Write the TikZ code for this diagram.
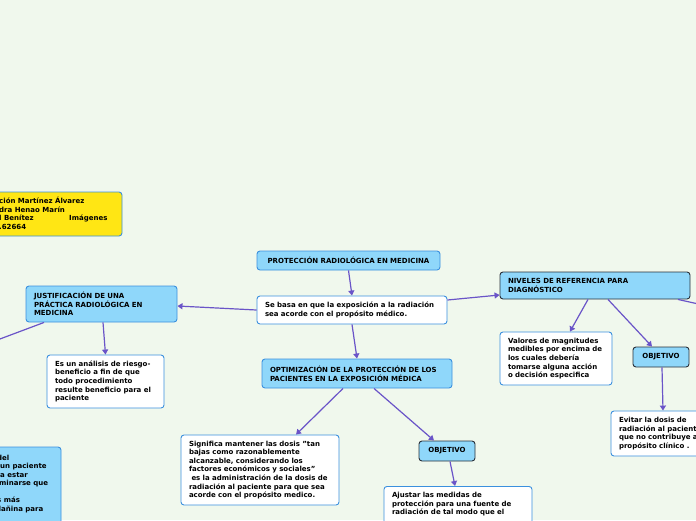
\documentclass[tikz,border=0pt]{standalone}
\usepackage{fontspec}
\setmainfont{DejaVu Sans}
\usetikzlibrary{arrows.meta}
\definecolor{bgc}{RGB}{240,248,237}
\definecolor{bluefill}{RGB}{143,215,250}
\definecolor{blueline}{RGB}{59,144,222}
\definecolor{darkline}{RGB}{40,48,58}
\definecolor{edgec}{RGB}{106,84,200}
\definecolor{yellowfill}{RGB}{255,230,20}
\newcommand{\tf}{\fontsize{7}{8.6}\selectfont\bfseries}
\tikzset{
  basebox/.style={rounded corners=3pt, line width=0.9pt, inner xsep=8pt, inner ysep=0pt, align=left, font=\tf, text=black},
  whitebox/.style={basebox, fill=white, draw=blueline},
  bluebox/.style={basebox, fill=bluefill, draw=blueline},
  darkbox/.style={basebox, fill=bluefill, draw=darkline},
  yellowbox/.style={basebox, fill=yellowfill, draw=blueline},
  edge/.style={draw=edgec, line width=1.2pt, -{Triangle[length=5pt,width=6pt]}},
  plainedge/.style={draw=edgec, line width=1.2pt},
  txt/.style={font=\tf, inner sep=0pt, anchor=base west, text=black}
}
\begin{document}
\begin{tikzpicture}[x=1pt,y=-1pt]
\useasboundingbox (0,0) rectangle (696,520);
\clip (0,0) rectangle (696,520);
\fill[bgc] (0,0) rectangle (696,520);

% yellow box (cut at left edge)
\node[yellowbox, minimum width=182pt, minimum height=44pt] (yel) at (31,214) {};
\node[txt] (y1) at (-1,203.5) {ción Martínez Álvarez};
\node[txt] (y2) at (-1,212.2) {dra Henao Marín};
\node[txt] (y3) at (-1,220.9) {l Benítez};
\node[txt] (y3b) at (69,220.9) {Imágenes};
\node[txt] (y4) at (-1,229.6) {.62664};

% bottom-left blue box (cut)
\node[bluebox, minimum width=161pt, minimum height=113pt] (blb) at (-19.5,503.5) {};
\node[txt] (b1) at (-3,460) {del};
\node[txt] (b2) at (0,468.6) {un paciente};
\node[txt] (b3) at (0,477.2) {a estar};
\node[txt] (b4) at (-1,485.8) {minarse que};
\node[txt] (b5) at (-3,502.5) {s más};
\node[txt] (b6) at (-4,511.1) {dañina para};

% main nodes
\node[bluebox, align=center, text width=167pt, minimum height=19pt] (prot) at (348.5,260.5) {PROTECCIÓN RADIOLÓGICA EN MEDICINA};
\node[whitebox, text width=174pt, minimum height=28pt] (se) at (352,310) {Se basa en que la exposición a la radiación\\sea acorde con el propósito médico.};
\node[bluebox, text width=174pt, minimum height=29pt] (opt) at (357,373.5) {OPTIMIZACIÓN DE LA PROTECCIÓN DE LOS\\PACIENTES EN LA EXPOSICIÓN MÉDICA};
\node[whitebox, text width=142pt, minimum height=70pt] (sig) at (260,470) {Significa mantener las dosis "tan\\bajas como razonablemente\\alcanzable, considerando los\\factores económicos y sociales"\\\hspace*{2.5pt}es la administración de la dosis de\\radiación al paciente para que sea\\acorde con el propósito medico.};
\node[darkbox, align=center, text width=40pt, minimum height=20pt] (obj1) at (447,451) {OBJETIVO};
\node[whitebox, text width=132pt, anchor=north, inner ysep=6pt] (aju) at (458,486) {Ajustar las medidas de\\protección para una fuente de\\radiación de tal modo que el\\\strut\\\strut};
\node[darkbox, text width=174pt, minimum height=27pt] (niv) at (595,285.5) {NIVELES DE REFERENCIA PARA\\DIAGNÓSTICO};
\node[whitebox, text width=96pt, minimum height=53pt] (val) at (556,358.5) {Valores de magnitudes\\medibles por encima de\\los cuales debería\\tomarse alguna acción\\o decisión especifica};
\node[darkbox, align=center, text width=40pt, minimum height=20pt] (obj2) at (661,357) {OBJETIVO};
\node[whitebox, text width=103pt, minimum height=45pt] (evi) at (670.5,433.5) {Evitar la dosis de\\radiación al paciente\\que no contribuye al\\propósito clínico .};
\node[bluebox, text width=135pt, minimum height=36pt] (just) at (101.5,304) {JUSTIFICACIÓN DE UNA\\PRÁCTICA RADIOLÓGICA EN\\MEDICINA};
\node[whitebox, text width=101pt, minimum height=53pt] (esun) at (105.5,381.5) {Es un análisis de riesgo-\\beneficio a fin de que\\todo procedimiento\\resulte beneficio para el\\paciente};

\coordinate (offR) at (730,311);
\coordinate (offL) at (-40,354);

% connectors
\draw[edge] (prot.south) -- (se.north);
\draw[edge] (se.west) -- ([yshift=-2pt]just.east);
\draw[edge] ([yshift=10pt]se.east) -- ([yshift=-9.5pt]niv.west);
\draw[edge] (se.south) -- (opt.north);
\draw[edge] ([xshift=-14pt]opt.south) -- ([xshift=36pt]sig.north);
\draw[edge] ([xshift=17pt]opt.south) -- ([xshift=-13pt]obj1.north);
\draw[edge] ([xshift=3pt]obj1.south) -- ([xshift=-3pt]aju.north);
\draw[edge] ([xshift=-7pt]niv.south) -- ([xshift=14pt]val.north);
\draw[edge] ([xshift=13pt]niv.south) -- ([xshift=-9pt]obj2.north);
\draw[plainedge] ([xshift=83pt]niv.south) -- (offR);
\draw[edge] ([xshift=1pt]obj2.south) -- ([xshift=-7.5pt]evi.north);
\draw[edge] ([xshift=1.5pt]just.south) -- (esun.north);
\draw[plainedge] ([xshift=-57.5pt]just.south) -- (offL);
\end{tikzpicture}
\end{document}
